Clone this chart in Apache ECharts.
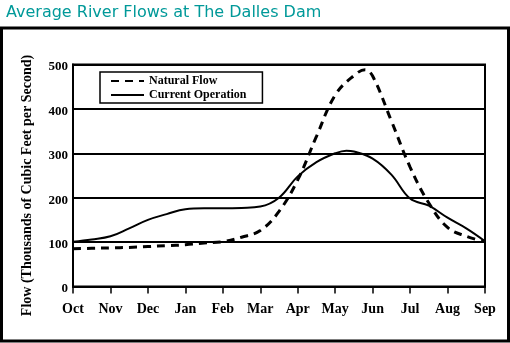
<!DOCTYPE html>
<html>
<head>
<meta charset="utf-8">
<script src="https://cdn.jsdelivr.net/npm/echarts@6/dist/echarts.min.js"></script>
<style>
html,body{margin:0;padding:0;background:#fff;}
#chart{width:510px;height:343px;}
</style>
</head>
<body>
<div id="chart"></div>
<script>
var months = ['Oct','Nov','Dec','Jan','Feb','Mar','Apr','May','Jun','Jul','Aug','Sep'];
var yTicks = [0,100,200,300,400,500];

var naturalX = [0,0.5,1,1.5,2,2.5,3,3.5,4,4.5,5,5.5,6,6.5,7,7.5,7.8,8,8.5,9,9.5,10,10.5,11];
var naturalY = [85,86,87,88,90,92,94,98,101,111,126,169,240,338,431,475,488,474,373,269,188,133,113,101];

var currentX = [0,0.5,1,1.5,2,2.5,3,3.5,4,4.5,5,5.5,6,6.5,7,7.3,7.5,8,8.5,9,9.5,10,10.5,11];
var currentY = [101,106,113,131,150,163,174,176,176,177,180,200,248,280,300,306,304,288,252,198,182,155,131,102];

function pairs(xs, ys){ return xs.map(function(x,i){ return [x, ys[i]]; }); }

var serif = '"Liberation Serif", "DejaVu Serif", serif';
var chart = echarts.init(document.getElementById('chart'), null, {renderer:'canvas'});
chart.setOption({
  animation:false,
  backgroundColor:'#fff',
  title:{
    text:'Average River Flows at The Dalles Dam',
    left:1, top:0,
    textStyle:{fontFamily:'"DejaVu Sans", sans-serif', fontSize:16, fontWeight:'normal', color:'#009999'}
  },
  graphic:[
    {type:'rect', shape:{x:1.5, y:28, width:507, height:313}, style:{fill:'none', stroke:'#000', lineWidth:3}, silent:true},
    {type:'text', x:27.5, y:185.5, rotation:Math.PI/2,
     style:{text:'Flow (Thousands of Cubic Feet per Second)', font:'bold 14px ' + serif, fill:'#000', textAlign:'center', textVerticalAlign:'middle'}}
  ],
  legend:{
    orient:'vertical',
    left:100, top:72,
    padding:[3,16,2,10],
    itemWidth:33, itemHeight:11, itemGap:2,
    borderColor:'#000', borderWidth:1.5,
    itemStyle:{color:'transparent', borderColor:'transparent', borderWidth:0, opacity:0},
    textStyle:{fontFamily:serif, fontSize:12, fontWeight:'bold', color:'#000'},
    data:['Natural Flow','Current Operation']
  },
  grid:{left:73, right:25, top:64.5, bottom:56.5, show:true, borderColor:'#000', borderWidth:2, backgroundColor:'transparent'},
  xAxis:{
    type:'value', min:0, max:11, interval:1,
    axisLine:{show:true, lineStyle:{color:'#000', width:2}},
    axisTick:{show:true, length:7, lineStyle:{color:'#000', width:1.5}},
    splitLine:{show:false},
    axisLabel:{margin:16, color:'#000', fontFamily:serif, fontSize:14, fontWeight:'bold',
      formatter:function(v){ return months[Math.round(v)] || ''; }}
  },
  yAxis:{
    type:'value', min:0, max:500, interval:100,
    axisLine:{show:true, lineStyle:{color:'#000', width:2}},
    axisTick:{show:false},
    splitLine:{show:true, lineStyle:{color:'#000', width:2}},
    axisLabel:{margin:5, color:'#000', fontFamily:serif, fontSize:13, fontWeight:'bold',
      verticalAlign:'top', lineHeight:13, padding:[-4,0,0,0],
      formatter:function(v){ return yTicks.indexOf(v) >= 0 ? String(v) : ''; }}
  },
  series:[
    {name:'Natural Flow', type:'line', data:pairs(naturalX, naturalY), smooth:0.4, symbol:'none', showSymbol:false,
     lineStyle:{color:'#000', width:3, type:[8,6]}, itemStyle:{color:'#000'}, z:3},
    {name:'Current Operation', type:'line', data:pairs(currentX, currentY), smooth:0.4, symbol:'none', showSymbol:false,
     lineStyle:{color:'#000', width:2, type:'solid'}, itemStyle:{color:'#000'}, z:4}
  ]
});
</script>
</body>
</html>
